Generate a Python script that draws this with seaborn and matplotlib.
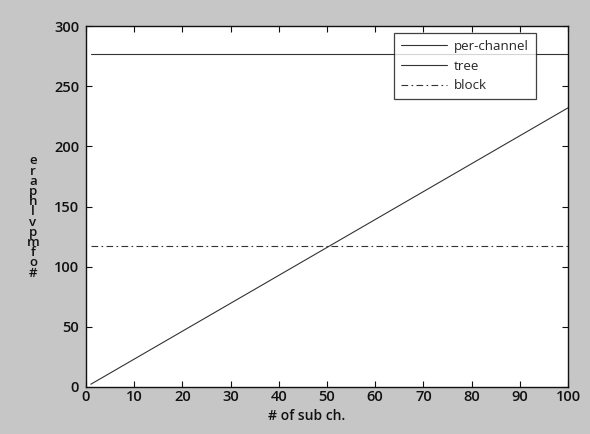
import matplotlib
matplotlib.use("Agg")
import matplotlib.pyplot as plt
import numpy as np
import pandas as pd
import seaborn as sns

# number of sub-channels
sub_ch = [1, 100]
# resource counts for each architecture
per_channel = [276.5, 276.5]
tree = [2.3, 232]
block = [117.5, 117.5]

series_names = ["per-channel", "tree", "block"]
x_ticks = [0, 10, 20, 30, 40, 50, 60, 70, 80, 90, 100]
y_ticks = [0, 50, 100, 150, 200, 250, 300]
y_label_chars = ["e", "r", "a", "p", "h", "l", "v", "p", "m", "f", "o", "#"]

df = pd.concat([
    pd.DataFrame({"sub": sub_ch, "count": per_channel, "arch": "per-channel"}),
    pd.DataFrame({"sub": sub_ch, "count": tree, "arch": "tree"}),
    pd.DataFrame({"sub": sub_ch, "count": block, "arch": "block"}),
])

sns.set_style("ticks")
plt.rcParams["font.family"] = ["Open Sans", "DejaVu Sans"]

fig = plt.figure(figsize=(5.9, 4.34), dpi=100)
fig.patch.set_facecolor("#c6c6c6")
ax = fig.add_axes([0.1458, 0.1083, 0.8169, 0.8317])
ax.set_facecolor("white")

styles = {"per-channel": "-", "tree": "-", "block": (0, (6, 3, 1.5, 3))}
for name in series_names:
    sub = df[df["arch"] == name]
    sns.lineplot(data=sub, x="sub", y="count", ax=ax, color="#333333",
                 linewidth=0.8, linestyle=styles[name], label=name,
                 estimator=None, sort=False)

ax.set_xlim(0, 100)
ax.set_ylim(0, 300)
ax.set_xticks(x_ticks)
ax.set_yticks(y_ticks)
ax.set_xticklabels([str(t) for t in x_ticks])
ax.set_yticklabels([str(t) for t in y_ticks])
ax.tick_params(direction="in", length=4, width=0.8, top=True, right=True,
               labelsize=10.5, colors="#111111")
ax.tick_params(axis="x", pad=2)
ax.tick_params(axis="y", pad=5)
for lab in ax.get_xticklabels() + ax.get_yticklabels():
    lab.set_fontweight("semibold")
for sp in ax.spines.values():
    sp.set_linewidth(1.0)
    sp.set_color("#111111")

ax.set_xlabel("")
ax.set_ylabel("")
fig.text(307 / 590, 1 - 416 / 434, "# of sub ch.", ha="center", va="center",
         fontsize=10, fontweight="semibold", color="#111111")
fig.text(33 / 590, 1 - 217 / 434, "\n".join(y_label_chars),
         ha="center", va="center", fontsize=9.5, fontweight="semibold",
         color="#111111", linespacing=0.72)

leg = ax.legend(loc="upper right", bbox_to_anchor=(0.933, 0.98),
                frameon=True, fancybox=False, fontsize=9.6,
                handlelength=3.5, handletextpad=0.5, labelspacing=0.5,
                borderpad=0.5, borderaxespad=0)
leg.get_frame().set_edgecolor("#111111")
leg.get_frame().set_linewidth(0.9)

fig.savefig("out.png", dpi=100, facecolor=fig.get_facecolor())
